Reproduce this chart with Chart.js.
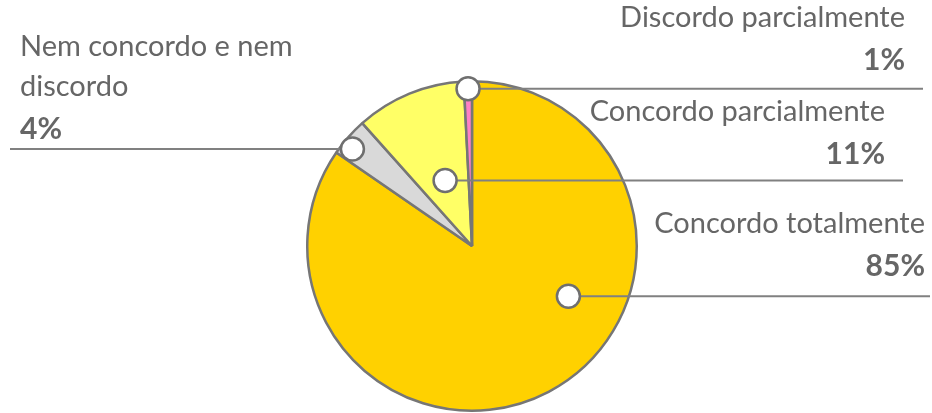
<!DOCTYPE html>
<html>
<head>
<meta charset="utf-8">
<script src="https://cdn.jsdelivr.net/npm/chart.js@4/dist/chart.umd.min.js"></script>
<style>
  html, body { margin: 0; padding: 0; background: #fff; }
  #wrap { width: 932px; height: 413px; }
</style>
</head>
<body>
<div id="wrap"><canvas id="pie" width="932" height="413"></canvas></div>
<script>
// slices, clockwise from 12 o'clock
const categories = ['Concordo totalmente', 'Nem concordo e nem discordo', 'Concordo parcialmente', 'Discordo parcialmente']
const shares = [84.6, 3.8, 10.8, 0.8]
const sliceColors = ['#FFD100', '#D9D9D9', '#FFFF66', '#FF80C4']

// where each callout sits: marker inside slice + text block
const callouts = [
    { frac: 0.386, rad: 0.66, lines: ['Concordo totalmente'], align: 'right', textX: 925, firstY: 224, lineEnd: 930 },
    { frac: 0.33, rad: 0.935, lines: ['Nem concordo e nem', 'discordo'], align: 'left', textX: 20, firstY: 47, lineEnd: 10 },
    { frac: 0.5, rad: 0.43, lines: ['Concordo parcialmente'], align: 'right', textX: 885, firstY: 112, lineEnd: 903 },
    { frac: 0.5, rad: 0.955, lines: ['Discordo parcialmente'], align: 'right', textX: 905, firstY: 18, lineEnd: 923 },
]

const calloutPlugin = {
    id: 'callouts',
    afterDraw(chart) {
        const ctx = chart.ctx
        const arcs = chart.getDatasetMeta(0).data
        const total = shares.reduce((a, b) => a + b, 0)
        ctx.save()
        arcs.forEach((arc, i) => {
            const c = callouts[i]
            const a = arc.startAngle + (arc.endAngle - arc.startAngle) * c.frac
            const r = arc.outerRadius * c.rad
            const mx = arc.x + Math.cos(a) * r
            const my = arc.y + Math.sin(a) * r
            const cr = 11.5

            // leader line
            ctx.strokeStyle = '#808080'
            ctx.lineWidth = 2
            ctx.beginPath()
            if (c.align === 'right') {
                ctx.moveTo(mx + cr, my)
            } else {
                ctx.moveTo(mx - cr, my)
            }
            ctx.lineTo(c.lineEnd, my)
            ctx.stroke()

            // marker
            ctx.beginPath()
            ctx.arc(mx, my, cr, 0, Math.PI * 2)
            ctx.fillStyle = '#fff'
            ctx.fill()
            ctx.lineWidth = 2.5
            ctx.strokeStyle = '#6f6f6f'
            ctx.stroke()

            // text
            ctx.fillStyle = '#666666'
            ctx.textAlign = c.align
            ctx.textBaseline = 'middle'
            ctx.font = '29px Lato'
            let y = c.firstY
            c.lines.forEach(t => {
                ctx.fillText(t, c.textX, y)
                y += 40
            })
            ctx.font = 'bold 30px Lato'
            const pct = Math.round(shares[i] / total * 100) + '%'
            ctx.fillText(pct, c.textX, y + 2)
        })
        ctx.restore()
    }
}

new Chart(document.getElementById('pie'), {
    type: 'pie',
    data: {
        labels: categories,
        datasets: [{
            data: shares,
            backgroundColor: sliceColors,
            borderColor: '#767676',
            borderWidth: 2.5,
        }]
    },
    options: {
        responsive: false,
        animation: false,
        devicePixelRatio: 1,
        layout: {
            padding: { left: 306, right: 294, top: 80, bottom: 1 }
        },
        plugins: {
            legend: { display: false },
            tooltip: { enabled: false },
        }
    },
    plugins: [calloutPlugin]
})
</script>
</body>
</html>
